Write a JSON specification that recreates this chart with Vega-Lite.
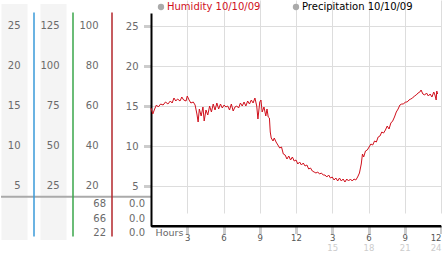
{
  "$schema": "https://vega.github.io/schema/vega-lite/v6.json",
  "padding": 0,
  "spacing": 0,
  "bounds": "flush",
  "background": "white",
  "config": {
    "view": {"stroke": null},
    "font": "DejaVu Sans",
    "text": {"font": "DejaVu Sans"},
    "axis": {"labelFont": "DejaVu Sans", "titleFont": "DejaVu Sans"},
    "legend": {"labelFont": "DejaVu Sans"}
  },
  "resolve": {"scale": {"color": "independent"}, "legend": {"color": "independent"}},
  "datasets": {
    "panes": [{"col": "c1"}, {"col": "c2"}],
    "dividers": [{"col": "c1"}, {"col": "c2"}, {"col": "c3"}],
    "labels": [
      {"col": "c1", "level": 25, "label": "25"},
      {"col": "c1", "level": 20, "label": "20"},
      {"col": "c1", "level": 15, "label": "15"},
      {"col": "c1", "level": 10, "label": "10"},
      {"col": "c1", "level": 5, "label": "5"},
      {"col": "c2", "level": 25, "label": "125"},
      {"col": "c2", "level": 20, "label": "100"},
      {"col": "c2", "level": 15, "label": "75"},
      {"col": "c2", "level": 10, "label": "50"},
      {"col": "c2", "level": 5, "label": "25"},
      {"col": "c3", "level": 25, "label": "100"},
      {"col": "c3", "level": 20, "label": "80"},
      {"col": "c3", "level": 15, "label": "60"},
      {"col": "c3", "level": 10, "label": "40"},
      {"col": "c3", "level": 5, "label": "20"}
    ],
    "table": [
      {"col": "c3", "level": 2.7, "label": "68"},
      {"col": "c3", "level": 0.9, "label": "66"},
      {"col": "c3", "level": -0.85, "label": "22"},
      {"col": "c4", "level": 2.7, "label": "0.0"},
      {"col": "c4", "level": 0.9, "label": "0.0"},
      {"col": "c4", "level": -0.85, "label": "0.0"}
    ],
    "precip": [
      {"hour": 0, "value": 0, "series": "Precipitation 10/10/09"},
      {"hour": 24, "value": 0, "series": "Precipitation 10/10/09"}
    ],
    "humidity": [
      {"hour": 0.0, "value": 59, "series": "Humidity 10/10/09"},
      {"hour": 0.15, "value": 56, "series": "Humidity 10/10/09"},
      {"hour": 0.3, "value": 58.5, "series": "Humidity 10/10/09"},
      {"hour": 0.45, "value": 60.5, "series": "Humidity 10/10/09"},
      {"hour": 0.6, "value": 59.5, "series": "Humidity 10/10/09"},
      {"hour": 0.8, "value": 61, "series": "Humidity 10/10/09"},
      {"hour": 1.0, "value": 60.5, "series": "Humidity 10/10/09"},
      {"hour": 1.2, "value": 62, "series": "Humidity 10/10/09"},
      {"hour": 1.4, "value": 61, "series": "Humidity 10/10/09"},
      {"hour": 1.6, "value": 62.5, "series": "Humidity 10/10/09"},
      {"hour": 1.75, "value": 61.5, "series": "Humidity 10/10/09"},
      {"hour": 1.9, "value": 64, "series": "Humidity 10/10/09"},
      {"hour": 2.05, "value": 62.5, "series": "Humidity 10/10/09"},
      {"hour": 2.2, "value": 63.5, "series": "Humidity 10/10/09"},
      {"hour": 2.4, "value": 62.5, "series": "Humidity 10/10/09"},
      {"hour": 2.55, "value": 64.5, "series": "Humidity 10/10/09"},
      {"hour": 2.7, "value": 63, "series": "Humidity 10/10/09"},
      {"hour": 2.9, "value": 62.5, "series": "Humidity 10/10/09"},
      {"hour": 3.0, "value": 65, "series": "Humidity 10/10/09"},
      {"hour": 3.15, "value": 63, "series": "Humidity 10/10/09"},
      {"hour": 3.3, "value": 61.5, "series": "Humidity 10/10/09"},
      {"hour": 3.5, "value": 62, "series": "Humidity 10/10/09"},
      {"hour": 3.65, "value": 60.5, "series": "Humidity 10/10/09"},
      {"hour": 3.8, "value": 56, "series": "Humidity 10/10/09"},
      {"hour": 3.9, "value": 52, "series": "Humidity 10/10/09"},
      {"hour": 4.0, "value": 58.5, "series": "Humidity 10/10/09"},
      {"hour": 4.15, "value": 55, "series": "Humidity 10/10/09"},
      {"hour": 4.3, "value": 59.5, "series": "Humidity 10/10/09"},
      {"hour": 4.4, "value": 52.5, "series": "Humidity 10/10/09"},
      {"hour": 4.55, "value": 58, "series": "Humidity 10/10/09"},
      {"hour": 4.7, "value": 55.5, "series": "Humidity 10/10/09"},
      {"hour": 4.85, "value": 60, "series": "Humidity 10/10/09"},
      {"hour": 5.0, "value": 57, "series": "Humidity 10/10/09"},
      {"hour": 5.15, "value": 61, "series": "Humidity 10/10/09"},
      {"hour": 5.3, "value": 58, "series": "Humidity 10/10/09"},
      {"hour": 5.45, "value": 61.5, "series": "Humidity 10/10/09"},
      {"hour": 5.6, "value": 58.5, "series": "Humidity 10/10/09"},
      {"hour": 5.75, "value": 61, "series": "Humidity 10/10/09"},
      {"hour": 5.9, "value": 59, "series": "Humidity 10/10/09"},
      {"hour": 6.05, "value": 60.5, "series": "Humidity 10/10/09"},
      {"hour": 6.2, "value": 59.5, "series": "Humidity 10/10/09"},
      {"hour": 6.35, "value": 60, "series": "Humidity 10/10/09"},
      {"hour": 6.5, "value": 58, "series": "Humidity 10/10/09"},
      {"hour": 6.65, "value": 61, "series": "Humidity 10/10/09"},
      {"hour": 6.8, "value": 57.5, "series": "Humidity 10/10/09"},
      {"hour": 6.95, "value": 59.5, "series": "Humidity 10/10/09"},
      {"hour": 7.1, "value": 60, "series": "Humidity 10/10/09"},
      {"hour": 7.25, "value": 59, "series": "Humidity 10/10/09"},
      {"hour": 7.4, "value": 61.5, "series": "Humidity 10/10/09"},
      {"hour": 7.55, "value": 60, "series": "Humidity 10/10/09"},
      {"hour": 7.7, "value": 62, "series": "Humidity 10/10/09"},
      {"hour": 7.85, "value": 60, "series": "Humidity 10/10/09"},
      {"hour": 8.0, "value": 62.5, "series": "Humidity 10/10/09"},
      {"hour": 8.15, "value": 61, "series": "Humidity 10/10/09"},
      {"hour": 8.3, "value": 63, "series": "Humidity 10/10/09"},
      {"hour": 8.45, "value": 61.5, "series": "Humidity 10/10/09"},
      {"hour": 8.6, "value": 64, "series": "Humidity 10/10/09"},
      {"hour": 8.75, "value": 60, "series": "Humidity 10/10/09"},
      {"hour": 8.85, "value": 53.5, "series": "Humidity 10/10/09"},
      {"hour": 9.0, "value": 62, "series": "Humidity 10/10/09"},
      {"hour": 9.1, "value": 63, "series": "Humidity 10/10/09"},
      {"hour": 9.2, "value": 57, "series": "Humidity 10/10/09"},
      {"hour": 9.35, "value": 59.5, "series": "Humidity 10/10/09"},
      {"hour": 9.5, "value": 55, "series": "Humidity 10/10/09"},
      {"hour": 9.6, "value": 58.5, "series": "Humidity 10/10/09"},
      {"hour": 9.7, "value": 54.5, "series": "Humidity 10/10/09"},
      {"hour": 9.8, "value": 54, "series": "Humidity 10/10/09"},
      {"hour": 9.87, "value": 47, "series": "Humidity 10/10/09"},
      {"hour": 9.95, "value": 44, "series": "Humidity 10/10/09"},
      {"hour": 10.1, "value": 42.5, "series": "Humidity 10/10/09"},
      {"hour": 10.2, "value": 44, "series": "Humidity 10/10/09"},
      {"hour": 10.35, "value": 42, "series": "Humidity 10/10/09"},
      {"hour": 10.5, "value": 40.5, "series": "Humidity 10/10/09"},
      {"hour": 10.65, "value": 39, "series": "Humidity 10/10/09"},
      {"hour": 10.8, "value": 39.5, "series": "Humidity 10/10/09"},
      {"hour": 10.95, "value": 36, "series": "Humidity 10/10/09"},
      {"hour": 11.1, "value": 35.5, "series": "Humidity 10/10/09"},
      {"hour": 11.25, "value": 33.5, "series": "Humidity 10/10/09"},
      {"hour": 11.4, "value": 35, "series": "Humidity 10/10/09"},
      {"hour": 11.55, "value": 33, "series": "Humidity 10/10/09"},
      {"hour": 11.7, "value": 34.5, "series": "Humidity 10/10/09"},
      {"hour": 11.85, "value": 32.5, "series": "Humidity 10/10/09"},
      {"hour": 12.0, "value": 33, "series": "Humidity 10/10/09"},
      {"hour": 12.15, "value": 31, "series": "Humidity 10/10/09"},
      {"hour": 12.3, "value": 32, "series": "Humidity 10/10/09"},
      {"hour": 12.45, "value": 30.5, "series": "Humidity 10/10/09"},
      {"hour": 12.6, "value": 31.5, "series": "Humidity 10/10/09"},
      {"hour": 12.75, "value": 30, "series": "Humidity 10/10/09"},
      {"hour": 12.9, "value": 30.5, "series": "Humidity 10/10/09"},
      {"hour": 13.05, "value": 28.5, "series": "Humidity 10/10/09"},
      {"hour": 13.2, "value": 29, "series": "Humidity 10/10/09"},
      {"hour": 13.35, "value": 27.5, "series": "Humidity 10/10/09"},
      {"hour": 13.5, "value": 27, "series": "Humidity 10/10/09"},
      {"hour": 13.65, "value": 26.5, "series": "Humidity 10/10/09"},
      {"hour": 13.8, "value": 27, "series": "Humidity 10/10/09"},
      {"hour": 13.95, "value": 26, "series": "Humidity 10/10/09"},
      {"hour": 14.1, "value": 26.5, "series": "Humidity 10/10/09"},
      {"hour": 14.25, "value": 25.5, "series": "Humidity 10/10/09"},
      {"hour": 14.4, "value": 25.5, "series": "Humidity 10/10/09"},
      {"hour": 14.55, "value": 24.5, "series": "Humidity 10/10/09"},
      {"hour": 14.7, "value": 25.5, "series": "Humidity 10/10/09"},
      {"hour": 14.85, "value": 24, "series": "Humidity 10/10/09"},
      {"hour": 15.0, "value": 24.5, "series": "Humidity 10/10/09"},
      {"hour": 15.15, "value": 23, "series": "Humidity 10/10/09"},
      {"hour": 15.3, "value": 24, "series": "Humidity 10/10/09"},
      {"hour": 15.45, "value": 22.5, "series": "Humidity 10/10/09"},
      {"hour": 15.6, "value": 24, "series": "Humidity 10/10/09"},
      {"hour": 15.75, "value": 22.5, "series": "Humidity 10/10/09"},
      {"hour": 15.9, "value": 23.5, "series": "Humidity 10/10/09"},
      {"hour": 16.05, "value": 22, "series": "Humidity 10/10/09"},
      {"hour": 16.2, "value": 23.5, "series": "Humidity 10/10/09"},
      {"hour": 16.35, "value": 22.5, "series": "Humidity 10/10/09"},
      {"hour": 16.5, "value": 23.5, "series": "Humidity 10/10/09"},
      {"hour": 16.65, "value": 22.5, "series": "Humidity 10/10/09"},
      {"hour": 16.8, "value": 23.5, "series": "Humidity 10/10/09"},
      {"hour": 16.95, "value": 23, "series": "Humidity 10/10/09"},
      {"hour": 17.1, "value": 24.5, "series": "Humidity 10/10/09"},
      {"hour": 17.25, "value": 26.5, "series": "Humidity 10/10/09"},
      {"hour": 17.4, "value": 31, "series": "Humidity 10/10/09"},
      {"hour": 17.5, "value": 36, "series": "Humidity 10/10/09"},
      {"hour": 17.6, "value": 34.5, "series": "Humidity 10/10/09"},
      {"hour": 17.75, "value": 37.5, "series": "Humidity 10/10/09"},
      {"hour": 17.9, "value": 38, "series": "Humidity 10/10/09"},
      {"hour": 18.05, "value": 39.5, "series": "Humidity 10/10/09"},
      {"hour": 18.2, "value": 41, "series": "Humidity 10/10/09"},
      {"hour": 18.35, "value": 40.5, "series": "Humidity 10/10/09"},
      {"hour": 18.5, "value": 42.5, "series": "Humidity 10/10/09"},
      {"hour": 18.65, "value": 42, "series": "Humidity 10/10/09"},
      {"hour": 18.8, "value": 44.5, "series": "Humidity 10/10/09"},
      {"hour": 18.95, "value": 45, "series": "Humidity 10/10/09"},
      {"hour": 19.1, "value": 47, "series": "Humidity 10/10/09"},
      {"hour": 19.25, "value": 46.5, "series": "Humidity 10/10/09"},
      {"hour": 19.4, "value": 48, "series": "Humidity 10/10/09"},
      {"hour": 19.55, "value": 50, "series": "Humidity 10/10/09"},
      {"hour": 19.7, "value": 48.5, "series": "Humidity 10/10/09"},
      {"hour": 19.85, "value": 51.5, "series": "Humidity 10/10/09"},
      {"hour": 20.0, "value": 52.5, "series": "Humidity 10/10/09"},
      {"hour": 20.15, "value": 54.5, "series": "Humidity 10/10/09"},
      {"hour": 20.3, "value": 57, "series": "Humidity 10/10/09"},
      {"hour": 20.45, "value": 58.5, "series": "Humidity 10/10/09"},
      {"hour": 20.6, "value": 60.5, "series": "Humidity 10/10/09"},
      {"hour": 20.75, "value": 61, "series": "Humidity 10/10/09"},
      {"hour": 20.9, "value": 61, "series": "Humidity 10/10/09"},
      {"hour": 21.05, "value": 62, "series": "Humidity 10/10/09"},
      {"hour": 21.2, "value": 62, "series": "Humidity 10/10/09"},
      {"hour": 21.35, "value": 63, "series": "Humidity 10/10/09"},
      {"hour": 21.5, "value": 63.5, "series": "Humidity 10/10/09"},
      {"hour": 21.65, "value": 64, "series": "Humidity 10/10/09"},
      {"hour": 21.8, "value": 65, "series": "Humidity 10/10/09"},
      {"hour": 21.95, "value": 65.5, "series": "Humidity 10/10/09"},
      {"hour": 22.1, "value": 66.5, "series": "Humidity 10/10/09"},
      {"hour": 22.25, "value": 67, "series": "Humidity 10/10/09"},
      {"hour": 22.35, "value": 68, "series": "Humidity 10/10/09"},
      {"hour": 22.5, "value": 66, "series": "Humidity 10/10/09"},
      {"hour": 22.65, "value": 65.5, "series": "Humidity 10/10/09"},
      {"hour": 22.8, "value": 66.5, "series": "Humidity 10/10/09"},
      {"hour": 22.95, "value": 65, "series": "Humidity 10/10/09"},
      {"hour": 23.1, "value": 66, "series": "Humidity 10/10/09"},
      {"hour": 23.25, "value": 64.5, "series": "Humidity 10/10/09"},
      {"hour": 23.4, "value": 67, "series": "Humidity 10/10/09"},
      {"hour": 23.5, "value": 65.5, "series": "Humidity 10/10/09"},
      {"hour": 23.6, "value": 63, "series": "Humidity 10/10/09"},
      {"hour": 23.65, "value": 67.5, "series": "Humidity 10/10/09"},
      {"hour": 23.72, "value": 66, "series": "Humidity 10/10/09"}
    ]
  },
  "hconcat": [
    {
      "width": 150,
      "height": 253,
      "layer": [
        {
          "data": {"name": "panes"},
          "mark": {"type": "bar", "width": 26, "color": "#f4f4f4"},
          "encoding": {
            "x": {"field": "col", "type": "nominal", "scale": {"type": "band", "domain": ["c1", "c2", "c3", "c4"], "range": [-6, 150], "paddingInner": 0, "paddingOuter": 0}, "axis": null},
            "y": {"datum": 27.75, "type": "quantitative", "scale": {"domain": [-3.375, 28.25], "nice": false, "zero": false}, "axis": null},
            "y2": {"datum": -1.75}
          }
        },
        {
          "data": {"values": [{}]},
          "mark": {"type": "rule", "color": "#aaaaaa", "strokeWidth": 2},
          "encoding": {"y": {"datum": 3.66, "type": "quantitative"}}
        },
        {
          "data": {"name": "dividers"},
          "mark": {"type": "rule", "strokeWidth": 1.5},
          "encoding": {
            "x": {"field": "col", "type": "nominal", "bandPosition": 1},
            "y": {"datum": 26.7, "type": "quantitative"},
            "y2": {"datum": -1.3},
            "color": {"field": "col", "type": "nominal", "scale": {"domain": ["c1", "c2", "c3"], "range": ["#3a9ad9", "#3aa64a", "#b3262b"]}, "legend": null}
          }
        },
        {
          "data": {"name": "labels"},
          "mark": {"type": "text", "align": "right", "baseline": "middle", "dx": 6, "fontSize": 10, "color": "#6a6a6a"},
          "encoding": {
            "x": {"field": "col", "type": "nominal"},
            "y": {"field": "level", "type": "quantitative"},
            "text": {"field": "label"}
          }
        },
        {
          "data": {"name": "table"},
          "mark": {"type": "text", "align": "right", "baseline": "middle", "dx": 13.5, "fontSize": 10, "color": "#6a6a6a"},
          "encoding": {
            "x": {"field": "col", "type": "nominal"},
            "y": {"field": "level", "type": "quantitative"},
            "text": {"field": "label"}
          }
        }
      ]
    },
    {
      "width": 290,
      "height": 226,
      "layer": [
        {
          "data": {"name": "humidity"},
          "mark": {"type": "line", "strokeWidth": 1},
          "encoding": {
            "x": {
              "field": "hour", "type": "quantitative",
              "scale": {"domain": [0, 24], "nice": false, "zero": false},
              "axis": {
                "orient": "bottom", "values": [3, 6, 9, 12, 15, 18, 21, 24],
                "labelExpr": "datum.value > 12 ? datum.value - 12 : datum.value",
                "grid": true, "gridColor": "#dddddd", "gridWidth": 1,
                "domainColor": "#000000", "domainWidth": 2,
                "ticks": true, "tickSize": 7, "tickColor": "#999999", "tickWidth": 3, "tickDash": [1, 1],
                "labelPadding": 0, "labelFontSize": 8.5, "labelColor": "#555555", "labelFlush": true, "labelOverlap": false,
                "title": "Hours", "titleX": 4, "titleY": 6, "titleAlign": "left", "titleBaseline": "middle",
                "titleFontSize": 9.5, "titleFontWeight": "normal", "titleColor": "#666666"
              }
            },
            "y": {
              "field": "value", "type": "quantitative",
              "scale": {"domain": [0, 106.5], "range": [226, 13], "nice": false, "zero": false},
              "axis": {
                "orient": "left", "values": [20, 40, 60, 80, 100],
                "labelExpr": "datum.value / 4",
                "grid": true, "gridColor": "#dddddd", "gridWidth": 1,
                "domainColor": "#000000", "domainWidth": 2,
                "ticks": true, "tickSize": 7, "tickColor": "#999999", "tickWidth": 3, "tickDash": [1, 1],
                "labelPadding": 6, "labelFontSize": 10, "labelColor": "#6a6a6a", "title": null
              }
            },
            "color": {
              "field": "series", "type": "nominal",
              "scale": {"domain": ["Humidity 10/10/09", "Precipitation 10/10/09"], "range": ["#d0101c", "#000000"]},
              "legend": {
                "orient": "none", "legendX": 5, "legendY": 2, "direction": "horizontal",
                "title": null, "symbolType": "circle", "symbolSize": 40, "symbolStrokeWidth": 0,
                "labelFontSize": 10, "labelOffset": 1, "columnPadding": 30, "padding": 0, "labelColor": "#000000",
                "encode": {
                  "symbols": {"update": {"fill": {"value": "#aaaaaa"}, "strokeWidth": {"value": 0}, "opacity": {"value": 1}}},
                  "labels": {"update": {"fill": {"signal": "datum.label == 'Humidity 10/10/09' ? '#d0101c' : '#000000'"}}}
                }
              }
            }
          }
        },
        {
          "data": {"name": "precip"},
          "mark": {"type": "line", "strokeWidth": 2},
          "encoding": {
            "x": {
              "field": "hour", "type": "quantitative",
              "axis": {
                "orient": "bottom", "values": [15, 18, 21, 24],
                "grid": false, "domain": false, "ticks": false, "tickSize": 0,
                "labelPadding": 17, "labelFontSize": 8.5, "labelColor": "#cccccc", "labelFlush": true, "title": null
              }
            },
            "y": {"field": "value", "type": "quantitative"},
            "color": {"field": "series", "type": "nominal"}
          }
        }
      ],
      "resolve": {"axis": {"x": "independent"}}
    }
  ]
}
